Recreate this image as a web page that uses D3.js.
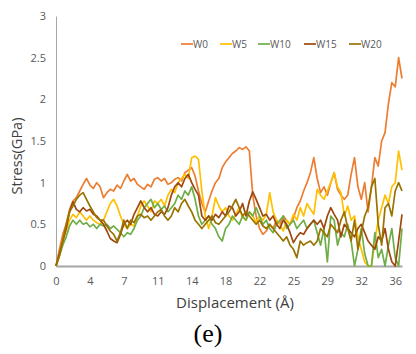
<!DOCTYPE html>
<html lang="en">
<head>
    <meta charset="UTF-8">
    <title>Stress vs Displacement (e)</title>
    <script src="https://cdnjs.cloudflare.com/ajax/libs/d3/7.8.5/d3.min.js"></script>
    <style>
        body {
            margin: 0;
            padding: 0;
            background-color: #ffffff;
        }
        #chart {
            width: 416px;
            height: 354px;
        }
        text {
            font-family: 'Open Sans', 'DejaVu Sans', sans-serif;
        }
    </style>
</head>
<body>
    <div id="chart"></div>

    <script>
        // Displacement grid: one sample every 0.36 Å (103 samples)
        const step = 0.36;
        const nPoints = 103;
        const displacement = d3.range(nPoints).map(i => +(i * step).toFixed(2));

        // Category labels shown every 10 samples
        const xTickLabels = ["0", "4", "7", "11", "14", "18", "22", "25", "29", "32", "36"];
        const yTicks = [0, 0.5, 1, 1.5, 2, 2.5, 3];

        const seriesNames = ["W0", "W5", "W10", "W15", "W20"];
        const seriesColors = ["#ED7D31", "#FFC000", "#70AD47", "#9E480E", "#997300"];

        // Stress (GPa)
        const w0 = [
            0, 0.2, 0.38, 0.5, 0.68, 0.78, 0.82, 0.9, 0.98, 1.05,
            0.97, 0.93, 1.0, 0.95, 0.82, 0.88, 0.92, 0.9, 0.97, 0.93,
            1.02, 1.1, 1.02, 1.05, 0.98, 0.95, 0.92, 0.98, 0.95, 1.04,
            1.06, 1.02, 1.05, 0.98, 1.0, 1.04, 1.06, 1.02, 1.12, 1.15,
            1.18, 1.08, 0.9, 0.75, 0.65, 0.78, 0.9, 1.0, 1.05, 1.18,
            1.25, 1.3, 1.35, 1.38, 1.42, 1.4, 1.43, 1.38, 0.85, 0.6,
            0.45, 0.38, 0.42, 0.5, 0.45, 0.55, 0.5, 0.6, 0.55, 0.5,
            0.58, 0.7, 0.78, 0.9, 1.0, 1.12, 1.3, 1.05, 0.88, 0.95,
            0.85, 1.0, 1.12, 0.92, 0.85, 0.8, 0.85, 1.1, 1.3, 0.95,
            0.8, 1.0, 0.65, 0.95, 1.3, 1.2, 1.5, 1.6, 1.95, 2.2,
            2.15, 2.5, 2.25
        ];
        const w5 = [
            0, 0.15, 0.3, 0.42, 0.55, 0.62, 0.58, 0.65, 0.6, 0.55,
            0.6, 0.55, 0.52, 0.5, 0.55, 0.65, 0.75, 0.8, 0.72, 0.6,
            0.5, 0.45, 0.5, 0.48, 0.6, 0.72, 0.78, 0.72, 0.65, 0.78,
            0.75, 0.8, 0.72, 0.85, 0.92, 0.88, 1.0, 1.05, 1.1, 1.05,
            1.3, 1.32, 1.28, 0.9, 0.6, 0.45, 0.6, 0.82, 0.72, 0.65,
            0.7, 0.6, 0.55, 0.62, 0.7, 0.58, 0.55, 0.65, 0.6, 0.52,
            0.6, 0.55, 0.62, 0.88, 0.65, 0.55, 0.5, 0.42, 0.55, 0.5,
            0.62, 0.55, 0.7, 0.6, 0.75, 0.68, 0.62, 0.92, 0.85, 0.8,
            0.9, 1.0, 1.12, 0.95, 0.88, 0.6, 0.72, 0.55, 0.6, 0.35,
            0.2, 0.05, 0, 0, 0.3, 0.55, 0.7, 0.85, 0.75, 0.95,
            1.0, 1.38, 1.15
        ];
        const w10 = [
            0, 0.12, 0.25, 0.35, 0.48, 0.55, 0.5, 0.55, 0.5, 0.52,
            0.47, 0.5, 0.45, 0.5, 0.48, 0.5, 0.45, 0.48, 0.44, 0.4,
            0.35, 0.4, 0.38, 0.45, 0.55, 0.6, 0.7, 0.75, 0.8, 0.7,
            0.75, 0.68, 0.72, 0.65, 0.7, 0.75, 0.85, 0.8, 0.9, 0.85,
            0.95, 0.8, 0.6, 0.5, 0.55, 0.6, 0.5, 0.45, 0.35, 0.3,
            0.45, 0.5, 0.6, 0.55, 0.5, 0.6, 0.55, 0.65, 0.6, 0.7,
            0.6, 0.5, 0.55, 0.45, 0.4, 0.5, 0.55, 0.6, 0.45, 0.5,
            0.55, 0.45, 0.5, 0.55, 0.45, 0.5, 0.55, 0.4, 0.25, 0.45,
            0.05, 0.6, 0.55, 0.25, 0.4, 0.35, 0.5, 0.3, 0, 0.2,
            0.45, 0.15, 0, 0, 0.4, 0.1, 0.2, 0, 0.25, 0.45,
            0.1, 0, 0.45
        ];
        const w15 = [
            0, 0.15, 0.3, 0.45, 0.65, 0.77, 0.68, 0.65, 0.7, 0.66,
            0.68, 0.62, 0.6, 0.55, 0.5, 0.42, 0.33, 0.3, 0.28, 0.38,
            0.5, 0.55, 0.5, 0.62, 0.7, 0.78, 0.7, 0.65, 0.7, 0.62,
            0.6, 0.65, 0.62, 0.7, 0.85, 0.95, 1.0, 0.95, 1.05, 1.1,
            1.0, 0.92, 0.85, 0.6, 0.55, 0.6, 0.55, 0.62, 0.58, 0.65,
            0.6, 0.72, 0.7, 0.6, 0.65, 0.75, 0.6, 0.78, 0.89, 0.8,
            0.7, 0.6, 0.62, 0.55, 0.6, 0.5, 0.45, 0.55, 0.5, 0.4,
            0.28, 0.35, 0.4, 0.38, 0.45, 0.5, 0.55, 0.5, 0.55, 0.45,
            0.6, 0.7, 0.62, 0.55, 0.35, 0.5, 0.45, 0.4, 0.35, 0.45,
            0.5, 0.4, 0.3, 0.25, 0.2, 0.35, 0.3, 0.45, 0.2, 0.05,
            0, 0.3, 0.62
        ];
        const w20 = [
            0, 0.12, 0.3, 0.5, 0.65, 0.72, 0.8, 0.85, 0.88, 0.8,
            0.72, 0.65, 0.58, 0.55, 0.55, 0.48, 0.42, 0.38, 0.3, 0.4,
            0.55, 0.45, 0.55, 0.52, 0.6, 0.62, 0.58, 0.6, 0.55, 0.6,
            0.65, 0.68, 0.6, 0.55, 0.6, 0.7, 0.65, 0.75, 0.8, 0.72,
            0.65, 0.55, 0.5, 0.45, 0.5, 0.55, 0.6, 0.52, 0.5, 0.55,
            0.6, 0.65, 0.72, 0.8, 0.7, 0.6, 0.65, 0.6, 0.55, 0.5,
            0.55, 0.48, 0.45, 0.5, 0.45, 0.4, 0.35, 0.3, 0.35, 0.25,
            0.2, 0.1, 0.3, 0.25, 0.28, 0.3, 0.25, 0.3, 0.45, 0.4,
            0.35, 0.5, 0.45, 0.4, 0.55, 0.65, 0.45, 0.3, 0.55, 0.2,
            0.4, 0.6, 0.7, 0.95, 1.05, 0.5, 0.25, 0.7, 0.75, 0.6,
            0.9, 1.0, 0.9
        ];
        const seriesValues = [w0, w5, w10, w15, w20];

        const width = 416;
        const height = 354;
        const margin = { top: 16, right: 14, bottom: 88, left: 56 };

        const svg = d3.select("#chart")
            .append("svg")
            .attr("width", width)
            .attr("height", height);

        const x = d3.scaleLinear()
            .domain([0, displacement[nPoints - 1]])
            .range([margin.left, width - margin.right]);

        const y = d3.scaleLinear()
            .domain([0, 3])
            .range([height - margin.bottom, margin.top]);

        // y axis
        const yAxis = svg.append("g")
            .attr("transform", `translate(${margin.left},0)`)
            .call(d3.axisLeft(y).tickValues(yTicks).tickSize(0).tickPadding(10)
                .tickFormat(d3.format("")));
        yAxis.select(".domain").attr("stroke", "#a6a6a6").attr("stroke-width", 1);
        yAxis.selectAll("text").attr("fill", "#595959").style("font-size", "11px");

        // x axis (category style labels every 10 samples)
        const xTickPos = xTickLabels.map((_, k) => displacement[k * 10]);
        const xAxis = svg.append("g")
            .attr("transform", `translate(0,${height - margin.bottom})`)
            .call(d3.axisBottom(x).tickValues(xTickPos).tickSize(0).tickPadding(11)
                .tickFormat((d, k) => xTickLabels[k]));
        xAxis.select(".domain").attr("stroke", "#a6a6a6").attr("stroke-width", 2);
        xAxis.selectAll("text").attr("fill", "#595959").style("font-size", "11px");

        // lines
        const line = d3.line()
            .x((d, i) => x(displacement[i]))
            .y(d => y(d));

        svg.append("g")
            .selectAll("path")
            .data(seriesValues)
            .join("path")
            .attr("d", line)
            .attr("fill", "none")
            .attr("stroke", (d, k) => seriesColors[k])
            .attr("stroke-width", 1.7)
            .attr("stroke-linejoin", "round");

        // legend
        const legendX = [181, 220, 258, 304, 349];
        const legend = svg.append("g")
            .selectAll("g")
            .data(seriesNames)
            .join("g")
            .attr("transform", (d, k) => `translate(${legendX[k]},44)`);
        legend.append("line")
            .attr("x1", 0).attr("x2", 12)
            .attr("stroke", (d, k) => seriesColors[k])
            .attr("stroke-width", 1.7);
        legend.append("text")
            .attr("x", 12)
            .attr("dy", "0.35em")
            .attr("fill", "#595959")
            .style("font-size", "10px")
            .text(d => d);

        // axis titles
        svg.append("text")
            .attr("transform", "translate(22,156) rotate(-90)")
            .attr("text-anchor", "middle")
            .attr("fill", "#404040")
            .style("font-size", "14.5px")
            .text("Stress(GPa)");

        svg.append("text")
            .attr("x", 235)
            .attr("y", 308)
            .attr("text-anchor", "middle")
            .attr("fill", "#404040")
            .style("font-size", "15px")
            .text("Displacement (Å)");

        // panel caption
        svg.append("text")
            .attr("x", 208)
            .attr("y", 342)
            .attr("text-anchor", "middle")
            .attr("fill", "#000000")
            .style("font-family", "'Liberation Serif', 'DejaVu Serif', serif")
            .style("font-size", "26px")
            .text("(e)");
    </script>
</body>
</html>
